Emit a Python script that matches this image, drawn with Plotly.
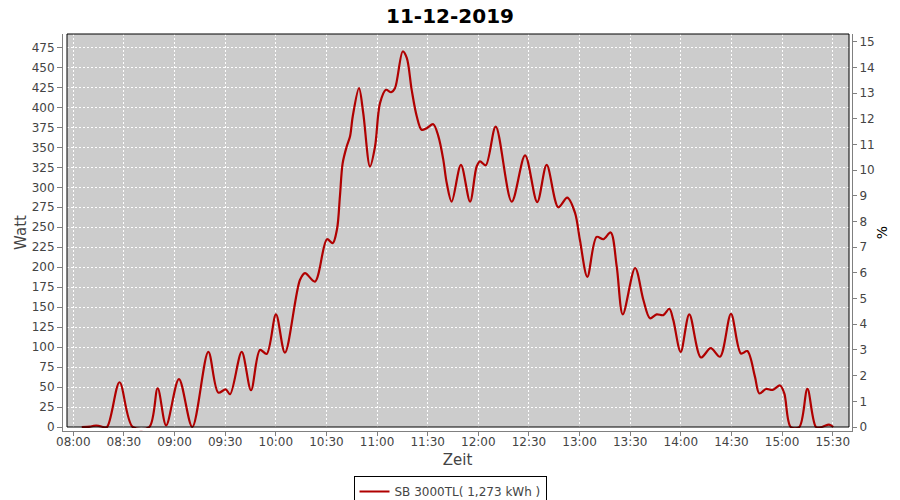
import plotly.graph_objects as go

# ---------------- data ----------------
DAY = "2019-12-11"
times = [
    "08:05:00", "08:10:00", "08:12:00", "08:15:00", "08:17:00", "08:20:00",
    "08:27:24", "08:35:12", "08:45:00", "08:50:00", "08:55:00", "09:02:36",
    "09:10:30", "09:20:00", "09:25:54", "09:30:18", "09:32:54", "09:39:48",
    "09:45:18", "09:50:36", "09:54:36", "10:00:06", "10:05:24", "10:14:18",
    "10:17:18", "10:23:12", "10:30:18", "10:33:42", "10:36:18", "10:38:00",
    "10:39:36", "10:42:00", "10:44:00", "10:45:36", "10:49:18", "10:51:48",
    "10:55:48", "10:58:48", "11:01:42", "11:05:18", "11:08:18", "11:10:36",
    "11:15:12", "11:17:36", "11:20:30", "11:23:30", "11:26:24", "11:29:24",
    "11:33:18", "11:36:18", "11:39:12", "11:41:18", "11:44:12", "11:49:42",
    "11:55:06", "11:59:00", "12:01:00", "12:04:24", "12:10:18", "12:19:48",
    "12:27:42", "12:34:54", "12:40:30", "12:47:24", "12:52:42", "12:57:18",
    "13:00:12", "13:04:36", "13:10:06", "13:14:06", "13:18:24", "13:22:00",
    "13:25:36", "13:32:54", "13:37:48", "13:41:42", "13:45:42", "13:49:36",
    "13:53:12", "13:55:30", "13:59:54", "14:05:00", "14:11:54", "14:17:42",
    "14:23:12", "14:29:42", "14:35:36", "14:39:24", "14:43:54", "14:46:30",
    "14:50:30", "14:54:24", "14:58:48", "15:01:18", "15:05:06", "15:10:12",
    "15:15:00", "15:20:06", "15:23:36", "15:27:48", "15:30:18",
]
watt = [
    0, 0.5, 1.5, 1.5, 0.3, 0,
    56, 0, 0, 48.5, 2, 60,
    0, 94, 43, 47, 41, 94,
    46, 96.5, 91.5, 141, 93, 184,
    192.6, 182, 235, 230, 248, 289,
    330, 351, 364, 389, 424, 393,
    326, 351, 405, 422, 419, 424,
    470, 462, 422, 389, 372, 374,
    379, 364, 335, 305, 282, 328,
    282, 326, 332.5, 327.5, 376, 282,
    340, 281.5, 328, 275, 287, 268,
    234, 188, 238, 235, 243.5, 201,
    141, 199, 159, 136, 141, 140,
    148, 134, 94, 141, 87, 98.6,
    88, 141.6, 92, 95, 63, 42,
    47.6, 46.4, 52, 42, 0, 0,
    47.6, 0, 0, 3, 0,
]
series_name = "SB 3000TL( 1,273 kWh )"
chart_title = "11-12-2019"
x_title, y_title, y2_title = "Zeit", "Watt", "%"

# ---------------- layout constants ----------------
# the page body has an 8px default margin, so the figure is 8px smaller
BODY = 8
W, H = 900 - BODY, 500 - BODY
ML, MT = 63 - BODY, 34 - BODY
PW, PH = 789, 397
MR, MB = W - ML - PW, H - MT - PH
OFF = 4  # axis offset in px

FONT = "DejaVu Sans"
TXT = "#444444"
GREY = "#808080"

x = [f"{DAY} {t}" for t in times]

fig = go.Figure()
fig.add_trace(go.Scatter(
    x=x, y=watt, mode="lines", name=series_name,
    line=dict(color="#b00000", width=2.2, shape="spline", smoothing=0.9),
))
fig.add_trace(go.Scatter(x=[], y=[], yaxis="y2", showlegend=False, hoverinfo="skip"))

px_per_min = 1.6876
px_per_w = 0.799
px_per_pct = 25.69

x_start_min = -(10.3 / px_per_min)
x_end_min = x_start_min + PW / px_per_min


def tstr(m):
    tot = int(round((8 * 60 + m) * 60))
    return f"{DAY} {tot // 3600:02d}:{(tot % 3600) // 60:02d}:{tot % 60:02d}"


y_lo = -OFF / px_per_w
y_hi = y_lo + PH / px_per_w
y2_lo = -OFF / px_per_pct
y2_hi = y2_lo + PH / px_per_pct

tickfont = dict(family=FONT, size=12, color=TXT)

fig.update_layout(
    width=W, height=H,
    margin=dict(l=ML, r=MR, t=MT, b=MB, pad=0, autoexpand=False),
    paper_bgcolor="white", plot_bgcolor="white",
    font=dict(family=FONT, size=12, color=TXT),
    title=dict(text=chart_title, x=(450 - BODY) / W, xref="container", xanchor="center",
               y=1 - (16 - BODY) / H, yref="container", yanchor="middle",
               font=dict(family=FONT, size=20, color="black", weight="bold")),
    xaxis=dict(
        type="date", range=[tstr(x_start_min), tstr(x_end_min)],
        tick0=f"{DAY} 08:00", dtick=30 * 60 * 1000, tickformat="%H:%M",
        showgrid=True, gridcolor="white", gridwidth=1, griddash="2px,2px",
        showline=True, linecolor=GREY, linewidth=1,
        ticks="outside", ticklen=4, tickcolor=GREY, tickfont=tickfont,
        ticklabelstandoff=-4,
        zeroline=False, automargin=False,
        title=dict(text=x_title, font=dict(family=FONT, size=15, color=TXT), standoff=6),
    ),
    yaxis=dict(
        range=[y_lo, y_hi], tick0=0, dtick=25,
        showgrid=True, gridcolor="white", gridwidth=1, griddash="2px,2px",
        showline=True, linecolor=GREY, linewidth=1,
        ticks="outside", ticklen=5, tickcolor=GREY, tickfont=tickfont,
        zeroline=False, automargin=False,
        title=dict(text=y_title, font=dict(family=FONT, size=15, color=TXT), standoff=1),
    ),
    yaxis2=dict(
        overlaying="y", side="right", range=[y2_lo, y2_hi], tick0=0, dtick=1,
        showgrid=False, zeroline=False, automargin=False,
        showline=True, linecolor=GREY, linewidth=1,
        ticks="outside", ticklen=4, tickcolor=GREY, tickfont=tickfont,
        title=dict(text=y2_title, font=dict(family=FONT, size=14, color="black"), standoff=3),
    ),
    legend=dict(
        orientation="h", xref="container", yref="container",
        x=(450 - BODY) / W, xanchor="center", y=1 - (476 - BODY) / H, yanchor="top",
        bordercolor="black", borderwidth=1, bgcolor="white",
        font=dict(family=FONT, size=12, color=TXT),
        itemwidth=30, tracegroupgap=0,
    ),
    showlegend=True,
    shapes=[
        # grey data area (inset by the axis offset)
        dict(type="rect", xref="paper", yref="paper",
             x0=OFF / PW, x1=(PW - OFF + 1) / PW, y0=OFF / PH, y1=1,
             fillcolor="#cccccc", line=dict(width=0), layer="below"),
        # hide anything drawn below zero in the offset strip
        dict(type="rect", xref="paper", yref="paper",
             x0=0.002, x1=0.998, y0=0.8 / PH, y1=(OFF - 1) / PH,
             fillcolor="white", line=dict(width=0), layer="above"),
        # black border of data area
        dict(type="rect", xref="paper", yref="paper",
             x0=OFF / PW, x1=(PW - OFF + 1) / PW, y0=OFF / PH, y1=1,
             fillcolor="rgba(0,0,0,0)", line=dict(color="black", width=1), layer="above"),
    ],
)

fig.write_html("out.html")
